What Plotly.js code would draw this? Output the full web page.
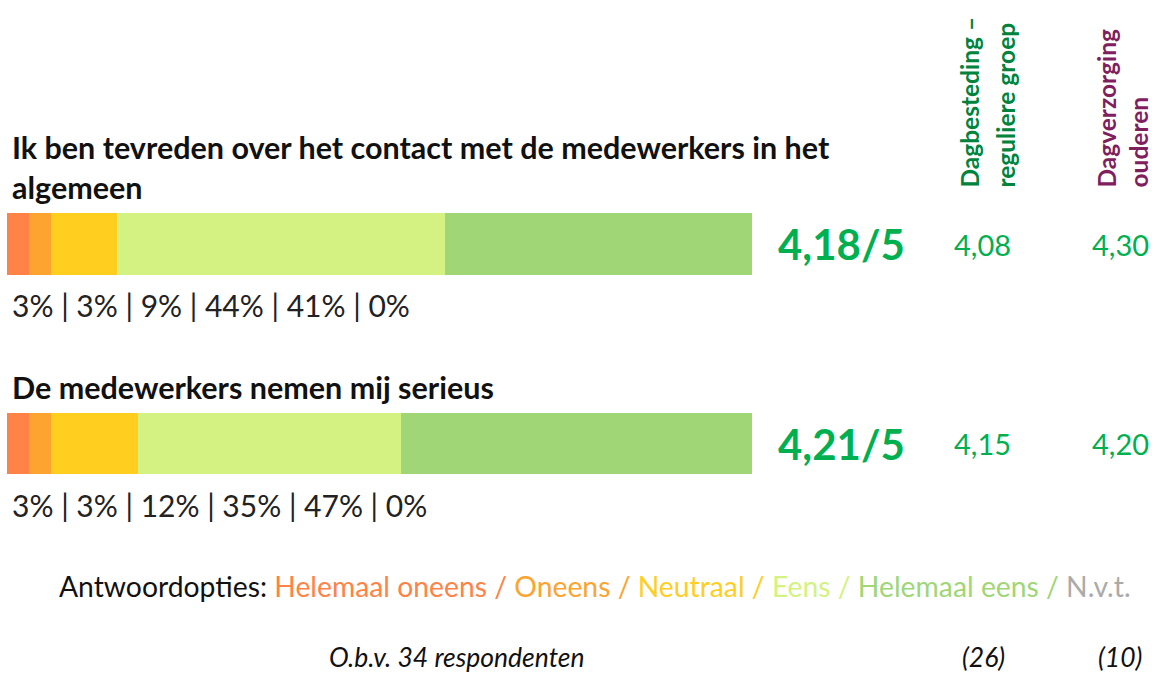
<!DOCTYPE html>
<html><head><meta charset="utf-8">
<script src="https://cdn.plot.ly/plotly-3.0.1.min.js"></script>
<style>html,body{margin:0;padding:0;background:#fff}#chart{width:1152px;height:675px}</style>
</head><body><div id="chart"></div>
<script>
// ---- data ----
const questions = ["Ik ben tevreden over het contact met de medewerkers in het algemeen", "De medewerkers nemen mij serieus"];
const titleLines = [["Ik ben tevreden over het contact met de medewerkers in het", "algemeen"], ["De medewerkers nemen mij serieus"]];
const answerOptions = ["Helemaal oneens", "Oneens", "Neutraal", "Eens", "Helemaal eens", "N.v.t."];
const helemaalOneens = [2.94, 2.94];
const oneens = [2.94, 2.94];
const neutraal = [8.82, 11.76];
const eens = [44.12, 35.29];
const helemaalEens = [41.18, 47.06];
const nvt = [0, 0];
const scores = ["4,18/5", "4,21/5"];
const groupNames = [["Dagbesteding –", "reguliere groep"], ["Dagverzorging", "ouderen"]];
const groupScoresA = ["4,08", "4,15"];
const groupScoresB = ["4,30", "4,20"];
const respondents = ["O.b.v. 34 respondenten", "(26)", "(10)"];

// ---- style ----
const FONT = "Lato, 'Noto Sans', sans-serif";
const colors = ["#FF8347", "#FCA42F", "#FFCE1F", "#D3F281", "#A0D675", "#AAAAAA"];
const series = [helemaalOneens, oneens, neutraal, eens, helemaalEens, nvt];
const scoreGreen = "#00B050";
const groupColors = ["#00843D", "#7F1F5F"];

const traces = series.map((vals, i) => ({
  type: "bar", orientation: "h", name: answerOptions[i],
  x: vals, y: questions, width: 0.31,
  marker: {color: colors[i], line: {width: 0}},
  hoverinfo: "skip", showlegend: false
}));

const ann = [];
const P = (px) => px / 1152;
const PY = (py) => 1 - py / 675;

questions.forEach((q, qi) => {
  const lines = titleLines[qi];
  lines.forEach((ln, li) => {
    ann.push({xref: "paper", yref: "y", x: P(10), y: q, xanchor: "left", yanchor: "middle",
      yshift: 57 + (lines.length - 1 - li) * 40, text: "<b>" + ln + "</b>", showarrow: false,
      font: {family: FONT, size: 30.5, color: "#111"}});
  });
  const pct = series.map(s => Math.round(s[qi]) + "%").join(" | ");
  ann.push({xref: "paper", yref: "y", x: P(10), y: q, xanchor: "left", yanchor: "middle",
    yshift: -61, text: pct, showarrow: false, font: {family: FONT, size: 30, color: "#222"}});
  ann.push({xref: "paper", yref: "y", x: P(841), y: q, xanchor: "center", yanchor: "middle",
    text: "<b>" + scores[qi] + "</b>", showarrow: false, font: {family: FONT, size: 42, color: scoreGreen}});
  ann.push({xref: "paper", yref: "y", x: P(982), y: q, xanchor: "center", yanchor: "middle",
    text: groupScoresA[qi], showarrow: false, font: {family: FONT, size: 29, color: scoreGreen}});
  ann.push({xref: "paper", yref: "y", x: P(1120), y: q, xanchor: "center", yanchor: "middle",
    text: groupScoresB[qi], showarrow: false, font: {family: FONT, size: 29, color: scoreGreen}});
});

// rotated group headers
const headerX = [[969, 1005], [1106, 1138]];
groupNames.forEach((g, gi) => {
  g.forEach((ln, li) => {
    ann.push({xref: "paper", yref: "paper", x: P(headerX[gi][li]), y: PY(190), xanchor: "center", yanchor: "bottom",
      textangle: -90, text: "<b>" + ln + "</b>", showarrow: false,
      font: {family: FONT, size: 24.5, color: groupColors[gi]}});
  });
});

// legend line: each option in its own colour, slash in the colour of the preceding option
let lt = "Antwoordopties: ";
answerOptions.forEach((a, i) => {
  const last = i === answerOptions.length - 1;
  lt += '<span style="color:' + colors[i] + '">' + a + (last ? '' : ' /') + '</span>' + (last ? '' : ' ');
});
ann.push({xref: "paper", yref: "paper", x: P(595), y: PY(586), xanchor: "center", yanchor: "middle",
  text: lt, showarrow: false, font: {family: FONT, size: 28.3, color: "#111"}});

// respondents
const respX = [456, 983, 1120];
respondents.forEach((r, i) => {
  ann.push({xref: "paper", yref: "paper", x: P(respX[i]), y: PY(657), xanchor: "center", yanchor: "middle",
    text: "<i>" + r + "</i>", showarrow: false, font: {family: FONT, size: 26.5, color: "#111"}});
});

const layout = {
  width: 1152, height: 675, barmode: "stack",
  margin: {l: 0, r: 0, t: 0, b: 0, pad: 0},
  paper_bgcolor: "#fff", plot_bgcolor: "#fff",
  xaxis: {domain: [P(7), P(752)], range: [0, 100], visible: false, fixedrange: true},
  yaxis: {domain: [0, 1], range: [2.1604, -1.2231], visible: false, fixedrange: true, type: "category"},
  annotations: ann, showlegend: false
};
Plotly.newPlot("chart", traces, layout, {staticPlot: true, displayModeBar: false});
</script></body></html>
